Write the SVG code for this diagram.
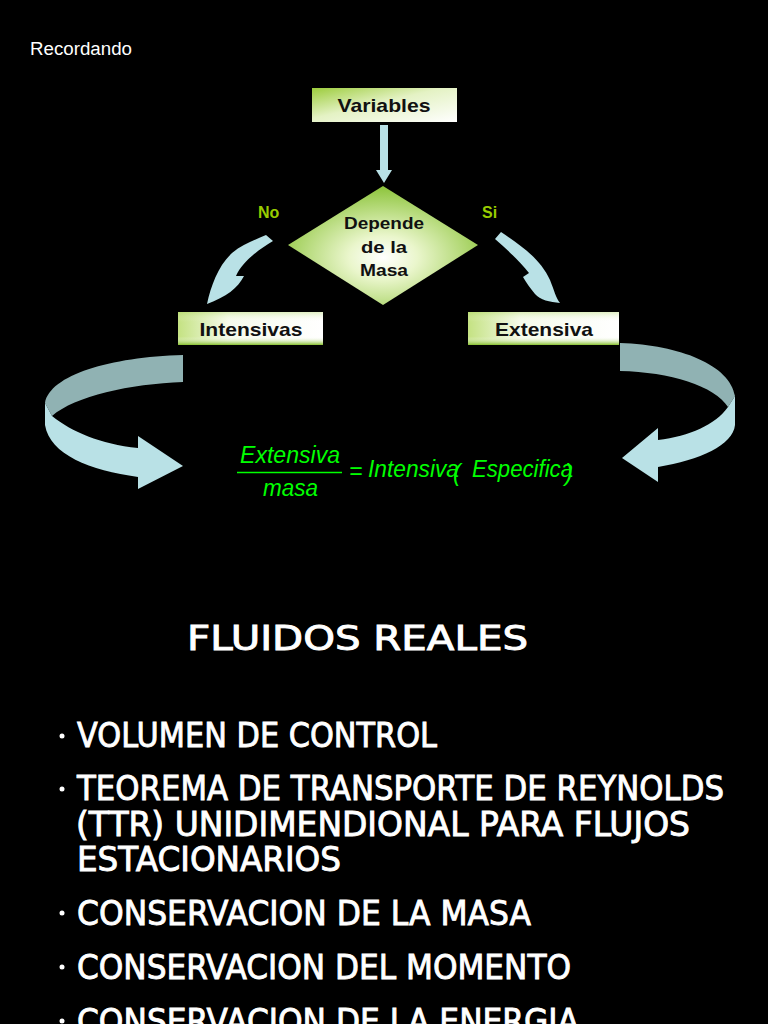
<svg xmlns="http://www.w3.org/2000/svg" width="768" height="1024" viewBox="0 0 768 1024">
<defs>
<linearGradient id="gVar" x1="0" y1="0" x2="1" y2="1">
<stop offset="0" stop-color="#9ccc3c"/>
<stop offset="0.45" stop-color="#e4f2c4"/>
<stop offset="1" stop-color="#ffffff"/>
</linearGradient>
<linearGradient id="gBoxH" x1="0" y1="0" x2="1" y2="0">
<stop offset="0" stop-color="#c4e282"/>
<stop offset="0.35" stop-color="#f6fbec"/>
<stop offset="1" stop-color="#ffffff"/>
</linearGradient>
<linearGradient id="gBoxV" x1="0" y1="0" x2="0" y2="1">
<stop offset="0" stop-color="#a8d456" stop-opacity="0.35"/>
<stop offset="0.3" stop-color="#ffffff" stop-opacity="0"/>
<stop offset="0.75" stop-color="#ffffff" stop-opacity="0"/>
<stop offset="1" stop-color="#86bf2e" stop-opacity="1"/>
</linearGradient>
<radialGradient id="gDia" cx="0.5" cy="0.6" r="0.6">
<stop offset="0" stop-color="#ffffff"/>
<stop offset="0.3" stop-color="#eaf6cc"/>
<stop offset="1" stop-color="#8cc43a"/>
</radialGradient>
<style>
.node text{font-family:"Liberation Sans",Arial,sans-serif;font-weight:bold;fill:#111;text-anchor:middle}
.lbl{font-family:"Liberation Sans",Arial,sans-serif;font-weight:bold;fill:#99cc00;font-size:16px}
.arr{fill:#b9e1e6}
.arrd{fill:#90b2b3}
.eq{font-family:"Liberation Sans",Arial,sans-serif;font-style:italic;fill:#00ff00;font-size:23px}
.body{font-family:"DejaVu Sans","Open Sans",sans-serif;fill:#ffffff;stroke:#ffffff;stroke-width:0.9;font-size:33px}
</style>
</defs>
<rect x="0" y="0" width="768" height="1024" fill="#000"/>
<text x="30" y="55" font-family="Liberation Sans, Arial, sans-serif" font-size="18" fill="#ffffff" textLength="102" lengthAdjust="spacingAndGlyphs">Recordando</text>

<g id="connectors">
<path class="arr" d="M380,125 H388 V170 H392 L384,183 L376,170 H380 Z"/>
<path class="arr" d="M266,235 L273,241 C 258,250 242,262 236,276 L244,276 C 238,288 226,297 207,304 C 211,286 218,266 232,253 C 243,244 255,240 266,235 Z"/>
<path class="arr" d="M501,232 C 520,245 540,258 550,280 C 554,290 556,298 560,303 C 550,302 540,300 535,294 C 530,288 526,282 523,277 L529,273 C 520,262 508,250 495,239 Z"/>
<path class="arrd" d="M183,355 C 110,357 50,375 45,403 L52,416 C 75,396 130,384 183,382 Z"/>
<path class="arr" d="M45,403 L52,416 C 72,432 100,444 138,448 L138,436 L183,466 L138,489 L138,477 C 90,470 50,455 45,425 Z"/>
<path class="arrd" d="M620,343 C 680,345 730,365 735,396 L728,407 C 715,386 670,372 620,371 Z"/>
<path class="arr" d="M735,396 L728,407 C 715,425 690,436 658,440 L658,428 L622,458 L658,482 L658,467 C 700,460 733,445 735,425 Z"/>
</g>

<g id="node-variables" class="node">
<rect x="312" y="88" width="145" height="34" fill="url(#gVar)"/>
<text x="384" y="112" font-size="19" textLength="93" lengthAdjust="spacingAndGlyphs">Variables</text>
</g>

<g id="node-decision" class="node">
<polygon points="383,186 478,245 383,305 288,245" fill="url(#gDia)"/>
<text x="384" y="229" font-size="17" textLength="80" lengthAdjust="spacingAndGlyphs">Depende</text>
<text x="384" y="253" font-size="17" textLength="46" lengthAdjust="spacingAndGlyphs">de la</text>
<text x="384" y="276" font-size="17" textLength="48" lengthAdjust="spacingAndGlyphs">Masa</text>
</g>

<g id="node-intensivas" class="node">
<rect x="178" y="312" width="145" height="33" fill="url(#gBoxH)"/>
<rect x="178" y="312" width="145" height="33" fill="url(#gBoxV)"/>
<text x="251" y="336" font-size="19" textLength="103" lengthAdjust="spacingAndGlyphs">Intensivas</text>
</g>

<g id="node-extensiva" class="node">
<rect x="468" y="312" width="151" height="33" fill="url(#gBoxH)"/>
<rect x="468" y="312" width="151" height="33" fill="url(#gBoxV)"/>
<text x="544" y="336" font-size="19" textLength="98" lengthAdjust="spacingAndGlyphs">Extensiva</text>
</g>

<g id="labels">
<text class="lbl" x="258" y="218">No</text>
<text class="lbl" x="482" y="218">Si</text>
</g>

<g id="formula">
<text class="eq" x="240" y="463" textLength="100" lengthAdjust="spacingAndGlyphs">Extensiva</text>
<line x1="237" y1="472.5" x2="342" y2="472.5" stroke="#00ff00" stroke-width="1.5"/>
<text class="eq" x="263" y="496" textLength="55" lengthAdjust="spacingAndGlyphs">masa</text>
<text class="eq" x="349" y="479" font-style="normal">=</text>
<text class="eq" x="368" y="477" textLength="91" lengthAdjust="spacingAndGlyphs">Intensiva</text>
<text class="eq" x="453" y="481" font-style="normal">(</text>
<text class="eq" x="472" y="477" textLength="101" lengthAdjust="spacingAndGlyphs">Especifica</text>
<text class="eq" x="565" y="481" font-style="normal">)</text>
</g>

<g id="content">
<text class="body" x="187" y="650" font-size="35" textLength="341" lengthAdjust="spacingAndGlyphs">FLUIDOS REALES</text>
<circle cx="62" cy="736" r="2.5" fill="#fff"/>
<text class="body" x="77" y="747" textLength="360" lengthAdjust="spacingAndGlyphs">VOLUMEN DE CONTROL</text>
<circle cx="62" cy="789" r="2.5" fill="#fff"/>
<text class="body" x="77" y="800" textLength="647" lengthAdjust="spacingAndGlyphs">TEOREMA DE TRANSPORTE DE REYNOLDS</text>
<text class="body" x="76" y="836" textLength="614" lengthAdjust="spacingAndGlyphs">(TTR) UNIDIMENDIONAL PARA FLUJOS</text>
<text class="body" x="77" y="871" textLength="264" lengthAdjust="spacingAndGlyphs">ESTACIONARIOS</text>
<circle cx="62" cy="913" r="2.5" fill="#fff"/>
<text class="body" x="77" y="925" textLength="454" lengthAdjust="spacingAndGlyphs">CONSERVACION DE LA MASA</text>
<circle cx="62" cy="967" r="2.5" fill="#fff"/>
<text class="body" x="77" y="979" textLength="494" lengthAdjust="spacingAndGlyphs">CONSERVACION DEL MOMENTO</text>
<circle cx="62" cy="1021" r="2.5" fill="#fff"/>
<text class="body" x="77" y="1033" textLength="502" lengthAdjust="spacingAndGlyphs">CONSERVACION DE LA ENERGIA</text>
</g>
</svg>
